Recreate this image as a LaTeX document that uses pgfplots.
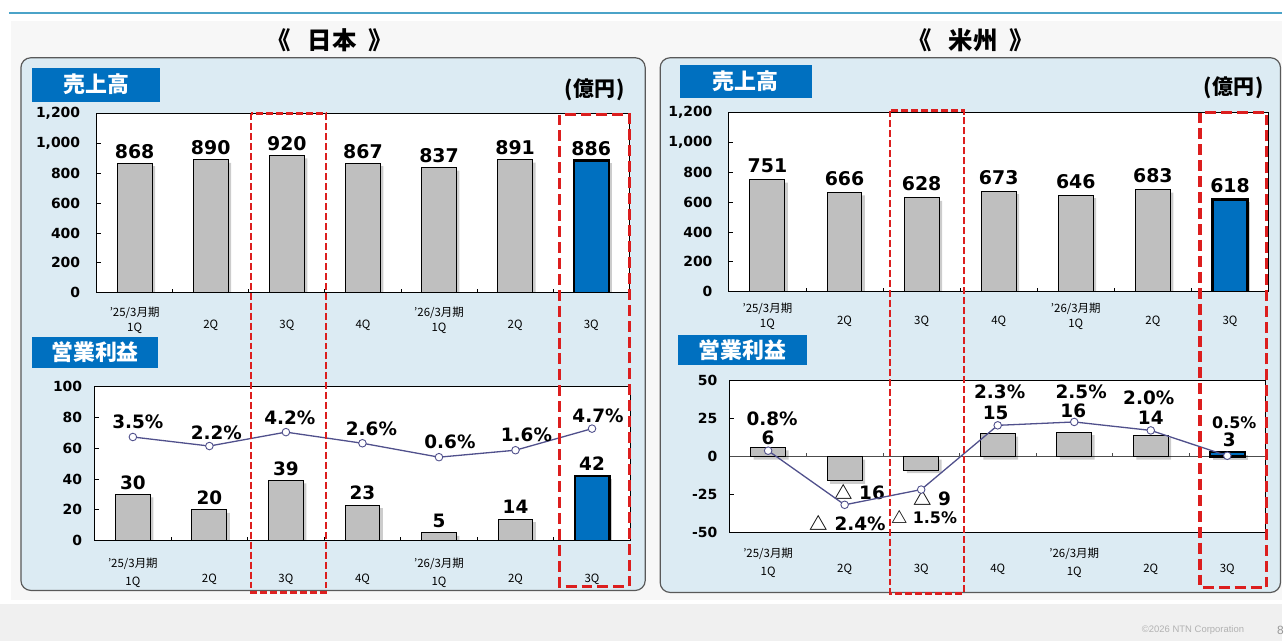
\documentclass[border=0pt]{standalone}
\usepackage{fontspec}
\usepackage{pgfplots}
\usepackage{pgfplotstable}
\pgfplotsset{compat=1.18}
\setmainfont{DejaVu Sans}
\newfontfamily\jp{Noto Sans CJK JP}
\newfontfamily\lib{Liberation Sans}
\definecolor{panel}{HTML}{DCEBF3}
\definecolor{boxblue}{HTML}{0070C0}
\definecolor{barg}{HTML}{BFBFBF}
\definecolor{lineblue}{HTML}{50508C}
\definecolor{redd}{HTML}{DC1E1E}
\definecolor{topline}{HTML}{4BA3C8}
\newcommand\tri{{\jp △}}
\newcommand\sm{\fontsize{16}{16}\selectfont}

% ---------------- data ----------------
\pgfplotstableread{
x y
0 868
1 890
2 920
3 867
4 837
5 891
}\jsg
\pgfplotstableread{
x y
6 886
}\jsb
\pgfplotstableread{
x y
0 30
1 20
2 39
3 23
4 5
5 14
}\jpg
\pgfplotstableread{
x y
6 42
}\jpb
\pgfplotstableread{
x p lab dx dy
0 3.5 3.5\% 5 15
1 2.2 2.2\% 7 13
2 4.2 4.2\% 4 14
3 2.6 2.6\% 9 15
4 0.6 0.6\% 11 15
5 1.6 1.6\% 11 15
6 4.7 4.7\% 6 13
}\jpct
\pgfplotstableread{
x y
0 751
1 666
2 628
3 673
4 646
5 683
}\asg
\pgfplotstableread{
x y
6 618
}\asb
\pgfplotstableread{
x y lab dx dy
0 6 6 0 10
1 -16 \tri~16 15 -11
2 -9 \tri~9 11 -28
3 15 15 -2 21
4 16 16 -1 21
5 14 14 0 17
6 3 3 2 12
}\aplab
\pgfplotstableread{
x y
0 6
1 -16
2 -9
3 15
4 16
5 14
}\apg
\pgfplotstableread{
x y
6 3
}\apb
\pgfplotstableread{
x p lab dx dy
0 0.8 0.8\% 4 32
1 -2.4 \tri~2.4\% 3 -18
2 -1.5 \sm\tri~1.5\% 3 -28
3 2.3 2.3\% 2 34
4 2.5 2.5\% 7 30
5 2.0 2.0\% -2 33
6 0.5 \sm0.5\% 7 33
}\apct

\pgfplotsset{
 base/.style={scale only axis, anchor=south west, xmin=-0.5, xmax=6.5},
 frame/.style={
   base,
   axis background/.style={fill=white},
   axis line style={black, line width=0.9pt},
   xtick={0,...,6}, minor xtick={0.5,1.5,2.5,3.5,4.5,5.5},
   xtick pos=left, ytick pos=left, tick align=inside,
   major tick length=4pt, minor tick length=4pt,
   tick style={black, line width=0.8pt},
   major x tick style={draw=none},
   xticklabel style={font=\jp\fontsize{11.5}{15}\selectfont, align=center, text=black},
   yticklabel style={font=\bfseries\fontsize{14}{14}\selectfont},
   xticklabels={{’25/3月期\\1Q},{\vphantom{’期}\\[-3pt]2Q},{\vphantom{’期}\\[-3pt]3Q},{\vphantom{’期}\\[-3pt]4Q},{’26/3月期\\1Q},{\vphantom{’期}\\[-3pt]2Q},{\vphantom{’期}\\[-3pt]3Q}},
   /pgf/number format/assume math mode=true,
 },
 sbar/.style={ybar, bar width=35pt, bar shift=0pt, fill=black, draw=none, opacity=0.2, xshift=3pt, yshift=-3pt, forget plot},
 gbar/.style={ybar, bar width=35pt, bar shift=0pt, fill=barg, draw=black, line width=1pt},
 bbar/.style={ybar, bar width=35pt, bar shift=0pt, fill=boxblue, draw=black, line width=2.2pt},
 vlab/.style={nodes near coords, every node near coord/.append style={font=\bfseries\fontsize{#1}{#1}\selectfont, anchor=center, text=black, line width=0pt}},
 lbl/.style={nodes near coords, point meta=explicit symbolic,
   visualization depends on={\thisrow{dx}\as\myDX},
   visualization depends on={\thisrow{dy}\as\myDY},
   every node near coord/.append style={anchor=center, xshift=\myDX pt, yshift=\myDY pt, font=\bfseries\fontsize{18.5}{18.5}\selectfont, text=black}},
 pline/.style={lineblue, line width=1.3pt, mark=*, mark size=3.8pt,
   mark options={fill=white, draw=lineblue, line width=0.9pt}, lbl},
}

\begin{document}
\begin{tikzpicture}
\begin{scope}[x=1pt,y=-1pt]
\path[use as bounding box] (0,0) rectangle (1287,644);
\fill[white] (0,0) rectangle (1287,644);
\fill[black!3] (11,21) rectangle (1287,603);
\fill[black!6] (0,607) rectangle (1287,644);
\draw[topline, line width=2pt] (9,13) -- (1287,13);
\node[font=\jp\bfseries\fontsize{24.5}{24.5}\selectfont] at (331,40) {《\hspace{17pt}日本\hspace{12pt}》};
\node[font=\jp\bfseries\fontsize{24.5}{24.5}\selectfont] at (975,40) {《\hspace{17pt}米州\hspace{12pt}》};
\draw[rounded corners=10pt, fill=panel, draw=black!65, line width=1.2pt] (21,58) rectangle (648,593);
\draw[rounded corners=10pt, fill=panel, draw=black!65, line width=1.2pt] (663,58) rectangle (1286,595);
\fill[boxblue] (32,68) rectangle (161,102);
\node[white, font=\jp\bfseries\fontsize{22}{22}\selectfont] at (96.5,85) {売上高};
\fill[boxblue] (683,65) rectangle (815,98);
\node[white, font=\jp\bfseries\fontsize{22}{22}\selectfont] at (749,81.5) {売上高};
\fill[boxblue] (32,338) rectangle (159,370);
\node[white, font=\jp\bfseries\fontsize{22}{22}\selectfont] at (95.5,354) {営業利益};
\fill[boxblue] (681,336) rectangle (810,367);
\node[white, font=\jp\bfseries\fontsize{22}{22}\selectfont] at (745.5,351.5) {営業利益};
\node[font=\jp\bfseries\fontsize{21}{21}\selectfont] at (597,90) {(\hspace{1pt}億円\hspace{1pt})};
\node[font=\jp\bfseries\fontsize{21}{21}\selectfont] at (1239,88) {(\hspace{1pt}億円\hspace{1pt})};
\end{scope}

% ---- Japan sales ----
\begin{axis}[frame, at={(97pt,-294pt)}, width=535pt, height=180pt,
  ymin=0, ymax=1200, ytick={0,200,...,1200},
  yticklabels={0,200,400,600,800,{1,000},{1,200}},
  yticklabel style={xshift=-13pt}, xticklabel style={yshift=-11pt}]
\addplot[sbar] table[x=x,y=y] \jsg;
\addplot[sbar] table[x=x,y=y] \jsb;
\addplot[gbar, vlab=19, every node near coord/.append style={yshift=12pt}] table[x=x,y=y] \jsg;
\addplot[bbar, vlab=19, every node near coord/.append style={yshift=12pt}] table[x=x,y=y] \jsb;
\end{axis}

% ---- Japan profit ----
\begin{axis}[frame, at={(95pt,-543pt)}, width=538pt, height=155pt,
  ymin=0, ymax=100, ytick={0,20,...,100},
  yticklabels={0,20,40,60,80,100},
  yticklabel style={xshift=-9pt},
  xticklabel style={yshift=-14pt, font=\jp\fontsize{11.5}{18}\selectfont}]
\addplot[sbar] table[x=x,y=y] \jpg;
\addplot[sbar] table[x=x,y=y] \jpb;
\addplot[gbar, vlab=18.5, every node near coord/.append style={yshift=12pt}] table[x=x,y=y] \jpg;
\addplot[bbar, vlab=18.5, every node near coord/.append style={yshift=12pt}] table[x=x,y=y] \jpb;
\end{axis}
\begin{axis}[base, at={(95pt,-543pt)}, width=538pt, height=155pt,
  ymin=-11.4, ymax=10.78, hide axis, clip=false]
\addplot[pline] table[x=x, y=p, meta=lab] \jpct;
\end{axis}

% ---- Americas sales ----
\begin{axis}[frame, at={(732pt,-293pt)}, width=542pt, height=180pt,
  ymin=0, ymax=1200, ytick={0,200,...,1200},
  yticklabels={0,200,400,600,800,{1,000},{1,200}},
  yticklabel style={xshift=-13pt}, xticklabel style={yshift=-8pt}]
\addplot[sbar] table[x=x,y=y] \asg;
\addplot[sbar] table[x=x,y=y] \asb;
\addplot[gbar, vlab=19, every node near coord/.append style={yshift=14pt}] table[x=x,y=y] \asg;
\addplot[bbar, vlab=19, every node near coord/.append style={yshift=14pt}] table[x=x,y=y] \asb;
\end{axis}

% ---- Americas profit ----
\begin{axis}[frame, at={(733pt,-535pt)}, width=538pt, height=153pt,
  ymin=-50, ymax=50, ytick={-50,-25,0,25,50},
  yticklabels={-50,-25,0,25,50},
  yticklabel style={xshift=-9pt},
  xticklabel style={yshift=-12pt, font=\jp\fontsize{11.5}{18}\selectfont},
  minor x tick style={draw=none}]
\draw[black!70, line width=1pt] (axis cs:-0.5,0) -- (axis cs:6.5,0);
\draw[black!70, line width=0.8pt] (axis cs:0.5,0) -- ++(0pt,4pt);
\draw[black!70, line width=0.8pt] (axis cs:1.5,0) -- ++(0pt,4pt);
\draw[black!70, line width=0.8pt] (axis cs:2.5,0) -- ++(0pt,4pt);
\draw[black!70, line width=0.8pt] (axis cs:3.5,0) -- ++(0pt,4pt);
\draw[black!70, line width=0.8pt] (axis cs:4.5,0) -- ++(0pt,4pt);
\draw[black!70, line width=0.8pt] (axis cs:5.5,0) -- ++(0pt,4pt);
\addplot[sbar] table[x=x,y=y] \apg;
\addplot[sbar] table[x=x,y=y] \apb;
\addplot[gbar] table[x=x,y=y] \apg;
\addplot[bbar] table[x=x,y=y] \apb;
\end{axis}
\begin{axis}[base, at={(733pt,-535pt)}, width=538pt, height=153pt,
  ymin=-50, ymax=50, hide axis, clip=false]
\addplot[only marks, mark=*, mark size=0pt, draw=none, lbl] table[x=x, y=y, meta=lab] \aplab;
\end{axis}
\begin{axis}[base, at={(733pt,-535pt)}, width=538pt, height=153pt,
  ymin=-4.05, ymax=4.96, hide axis, clip=false]
\addplot[pline] table[x=x, y=p, meta=lab] \apct;
\end{axis}

\begin{scope}[x=1pt,y=-1pt]
\draw[redd, line width=2.2pt, dash pattern=on 7pt off 3pt] (252,114) rectangle (327,595);
\draw[redd, line width=3.5pt, dash pattern=on 11pt off 5pt] (562,115) rectangle (632,589);
\draw[redd, line width=2.2pt, dash pattern=on 7pt off 3pt] (894,111) rectangle (968,596);
\draw[redd, line width=3.5pt, dash pattern=on 11pt off 5pt] (1205,113) rectangle (1272,590);
\node[anchor=east, text=black!30, font=\lib\fontsize{9.5}{9.5}\selectfont] at (1253,633) {©2026 NTN Corporation};
\node[anchor=west, text=black!40, font=\lib\fontsize{12}{12}\selectfont] at (1279,633) {8};
\end{scope}
\end{tikzpicture}
\end{document}
